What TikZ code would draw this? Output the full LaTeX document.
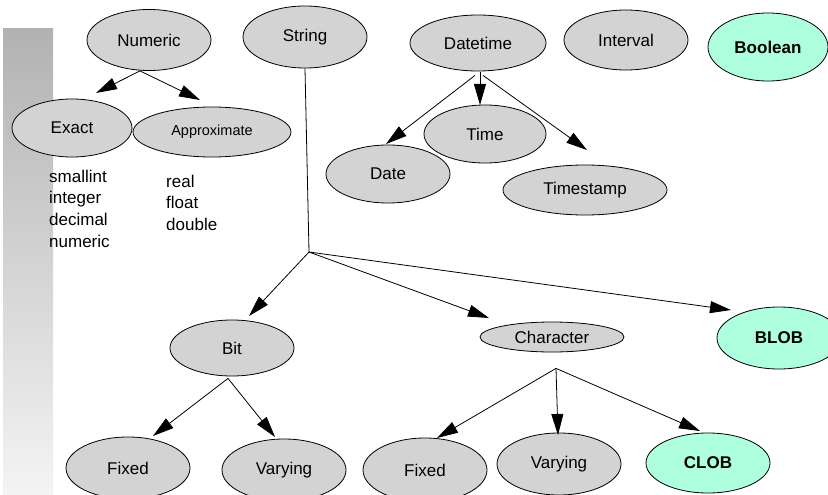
\documentclass[tikz,border=0pt]{standalone}
\usepackage{fontspec}
\setmainfont{Liberation Sans}
\usetikzlibrary{shapes.geometric,arrows.meta,calc}
\definecolor{nodegray}{RGB}{211,211,211}
\definecolor{mint}{RGB}{173,255,221}
\definecolor{bartop}{RGB}{178,178,178}
\definecolor{barbot}{RGB}{244,244,244}
\begin{document}
\begin{tikzpicture}[x=1pt,y=-1pt,
  every node/.style={font=\fontsize{17}{21.8}\selectfont},
  typ/.style={ellipse, draw, line width=0.8pt, fill=nodegray, inner sep=0pt},
  lob/.style={typ, fill=mint, font=\fontsize{17}{21.8}\selectfont\bfseries},
  arr/.style={line width=0.8pt, -{Triangle[length=21pt,width=12pt]}},
  ln/.style={line width=0.8pt}]
\useasboundingbox (0,0) rectangle (828,495);
% gradient bar
\shade[top color=bartop, bottom color=barbot] (3,29) rectangle (53,495);

% Numeric branch
\node[typ, minimum width=124pt, minimum height=61pt] (num) at (149,40) {Numeric};
\node[typ, minimum width=120pt, minimum height=58pt] (ex) at (72,128) {Exact};
\node[typ, minimum width=158pt, minimum height=50pt, font=\fontsize{14.5}{17}\selectfont] (ap) at (212,132) {Approximate};
\node[anchor=north west, align=left, inner sep=0pt] (exl) at (49,169.5) {smallint\\integer\\decimal\\numeric};
\node[anchor=north west, align=left, inner sep=0pt] (apl) at (166,174.5) {real\\float\\double};

% top row
\node[typ, minimum width=124pt, minimum height=62pt] (str) at (305,37) {String};
\node[typ, minimum width=136pt, minimum height=56pt] (dtm) at (478,43) {Datetime};
\node[typ, minimum width=124pt, minimum height=60pt] (int) at (626,40) {Interval};
\node[lob, minimum width=120pt, minimum height=68pt] (bool) at (768,47) {Boolean};

% datetime children
\node[typ, minimum width=124pt, minimum height=58pt] (date) at (388,174) {Date};
\node[typ, minimum width=122pt, minimum height=58pt] (time) at (485,134) {Time};
\node[typ, minimum width=164pt, minimum height=50pt] (ts) at (585,190) {Timestamp};

% string children
\coordinate (br) at (309,252);
\node[typ, minimum width=124pt, minimum height=56pt] (bit) at (232,348) {Bit};
\node[typ, minimum width=144pt, minimum height=30pt] (ch) at (552,337) {Character};
\node[lob, minimum width=124pt, minimum height=62pt] (blob) at (779,338) {BLOB};

% bottom row
\node[typ, minimum width=124pt, minimum height=62pt] (bfix) at (128,468) {Fixed};
\node[typ, minimum width=124pt, minimum height=62pt] (bvar) at (284,470) {Varying};
\node[typ, minimum width=124pt, minimum height=64pt] (cfix) at (425,470) {Fixed};
\node[typ, minimum width=124pt, minimum height=62pt] (cvar) at (559,464) {Varying};
\node[lob, minimum width=124pt, minimum height=60pt] (clob) at (708,463) {CLOB};

% connectors
\draw[arr] ($(num.south)+(-9,0)$) -- ($(ex.center)+(24,-35)$);
\draw[arr] ($(num.south)+(-9,0)$) -- ($(ap.center)+(-12,-32)$);

\draw[arr] ($(dtm.south)+(-3,4)$) -- ($(date.center)+(-2,-30)$);
\draw[arr] ($(dtm.south)+(2,1)$) -- ($(time.center)+(-5,-29)$);
\draw[arr] ($(dtm.south)+(5,4)$) -- ($(ts.center)+(2,-40)$);

\draw[ln] (str.south) -- (br);
\draw[arr] (br) -- ($(bit.center)+(17,-32)$);
\draw[arr] (br) -- ($(ch.center)+(-63,-19)$);
\draw[arr] (br) -- ($(blob.center)+(-48,-28)$);

\draw[arr] ($(bit.south)+(-4,2)$) -- ($(bfix.center)+(25,-32)$);
\draw[arr] ($(bit.south)+(-4,2)$) -- ($(bvar.center)+(-9,-33)$);

\draw[arr] ($(ch.south)+(4,16)$) -- ($(cfix.center)+(12,-32)$);
\draw[arr] ($(ch.south)+(4,16)$) -- ($(cvar.center)+(-1,-29)$);
\draw[arr] ($(ch.south)+(4,16)$) -- ($(clob.center)+(-8,-32)$);
\end{tikzpicture}
\end{document}
